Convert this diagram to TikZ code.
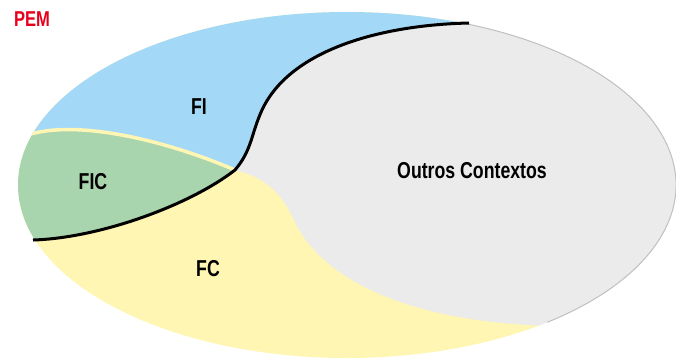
\documentclass[tikz,border=0pt]{standalone}
\usepackage{fontspec}
\setmainfont{Liberation Sans}[FakeStretch=0.77]
\definecolor{fiblue}{RGB}{163,217,247}
\definecolor{ficgreen}{RGB}{168,212,174}
\definecolor{fcyellow}{RGB}{255,246,179}
\definecolor{ocgray}{RGB}{235,235,235}
\definecolor{ocline}{RGB}{192,192,192}
\definecolor{pemred}{RGB}{230,0,28}
\begin{document}
\begin{tikzpicture}[x=1pt,y=1pt,
  lbl/.style={font=\bfseries\fontsize{23}{23}\selectfont, text=black, inner sep=0pt},
  pemlbl/.style={font=\bfseries\fontsize{21.5}{21.5}\selectfont, text=pemred, inner sep=0pt},
  border/.style={line width=3pt, black},
  seam/.style={line width=3.5pt, fcyellow}]
\useasboundingbox (0,0) rectangle (676,-360);
\coordinate (C) at (347,-185);
\coordinate (J) at (235,-170);
\coordinate (T) at (469,-23);
\begin{scope}
  \clip (C) ellipse [x radius=329, y radius=173];
  \fill[fcyellow] (0,0) rectangle (676,-360);
  % FI
  \fill[fiblue] (470,10) -- (T) .. controls (380,-25) and (290,-50) .. (262,-110)
      .. controls (251,-134) and (252,-150) .. (J)
      .. controls (160,-138) and (80,-122) .. (35,-133) -- (0,-125) -- (0,10) -- cycle;
  % FIC
  \fill[ficgreen] (35,-133) .. controls (80,-122) and (160,-138) .. (J)
      .. controls (190,-205) and (100,-238) .. (33,-240) -- (0,-240) -- (0,-130) -- cycle;
  % Outros Contextos
  \fill[ocgray] (470,10) -- (T) .. controls (380,-25) and (290,-50) .. (262,-110)
      .. controls (251,-134) and (252,-150) .. (J)
      .. controls (265,-178) and (280,-190) .. (295,-222)
      .. controls (320,-275) and (400,-322) .. (552,-326) -- (700,-326) -- (700,10) -- cycle;
  % yellow seam
  \draw[seam] (30,-134) -- (35,-133) .. controls (80,-122) and (160,-138) .. (J);
\end{scope}
\draw[ocline, line width=1pt] (C) ++(68.3:329 and 173)
   arc[start angle=68.3, end angle=-52.5, x radius=329, y radius=173];
\draw[border] (T) .. controls (380,-25) and (290,-50) .. (262,-110)
   .. controls (251,-134) and (252,-150) .. (J)
   .. controls (190,-205) and (100,-238) .. (33,-240);
\node[lbl] (fi) at (199,-107) {FI};
\node[lbl] (fic) at (93,-182) {FIC};
\node[lbl] (fc) at (208,-269) {FC};
\node[lbl] (oc) at (472,-171) {Outros Contextos};
\node[pemlbl] (pem) at (32,-19) {PEM};
\end{tikzpicture}
\end{document}
